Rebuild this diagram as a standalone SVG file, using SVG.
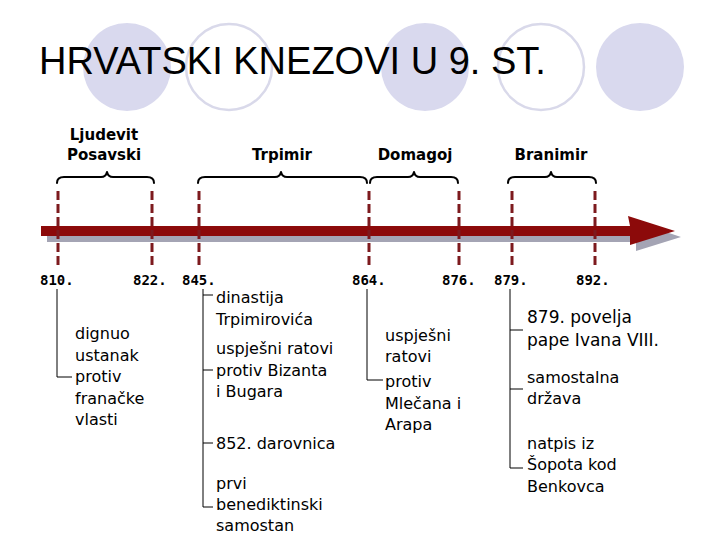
<svg xmlns="http://www.w3.org/2000/svg" width="720" height="540" viewBox="0 0 720 540">
<style>
.dot{fill:#D9D9EE}
.ring{fill:none;stroke:#D9D9EA;stroke-width:2.5}
.title{font-family:"Liberation Sans",Arial,sans-serif;font-size:38px;fill:#000}
.ruler{font-family:"DejaVu Sans",sans-serif;font-size:15px;font-weight:bold;fill:#000;text-anchor:middle}
.year{font-family:"DejaVu Sans Mono","Liberation Mono",monospace;font-size:14px;font-weight:bold;fill:#000}
.txt{font-family:"DejaVu Sans",sans-serif;font-size:16px;fill:#000}
.big{font-size:17px}
.brace{fill:none;stroke:#000;stroke-width:2;stroke-linejoin:round;stroke-linecap:round}
.dash{stroke:#7D1A1E;stroke-width:3;stroke-dasharray:9 4}
.conn{fill:none;stroke:#000;stroke-width:1}
</style>
<rect width="720" height="540" fill="#fff"/>
<g id="decor">
<circle class="dot" cx="127" cy="67" r="44"/>
<circle class="ring" cx="229" cy="67" r="43"/>
<circle class="dot" cx="425" cy="67" r="44"/>
<circle class="ring" cx="541" cy="67" r="43"/>
<circle class="dot" cx="640" cy="67" r="44"/>
</g>
<g id="title"><text class="title" x="39" y="74">HRVATSKI KNEZOVI U 9. ST.</text></g>
<g id="timeline">
<path d="M47,232 H637 L636,222 L681,237 L636,251 L636,242 H47 Z" fill="#A4A4B4"/>
<path d="M41,226 H630 L628,216 L675,231 L630,245 L630,236 H41 Z" fill="#8C0A0A"/>
<line class="dash" x1="58" y1="191" x2="58" y2="268"/>
<line class="dash" x1="152" y1="191" x2="152" y2="268"/>
<line class="dash" x1="199" y1="191" x2="199" y2="268"/>
<line class="dash" x1="369" y1="191" x2="369" y2="268"/>
<line class="dash" x1="459" y1="191" x2="459" y2="268"/>
<line class="dash" x1="512" y1="191" x2="512" y2="268"/>
<line class="dash" x1="595" y1="191" x2="595" y2="268"/>
<text class="year" x="40" y="285">810.</text>
<text class="year" x="133" y="285">822.</text>
<text class="year" x="182" y="285">845.</text>
<text class="year" x="352" y="285">864.</text>
<text class="year" x="442" y="285">876.</text>
<text class="year" x="494" y="285">879.</text>
<text class="year" x="576" y="285">892.</text>
</g>
<g id="ljudevit">
<path class="brace" d="M57,183 Q57,177 64,177 L101,177 Q106,177 107,172 Q108,177 113,177 L147,177 Q154,177 154,183"/>
<text class="ruler" x="104" y="140">Ljudevit</text>
<text class="ruler" x="104" y="160">Posavski</text>
<text class="txt" x="75" y="339">dignuo</text>
<text class="txt" x="75" y="361">ustanak</text>
<text class="txt" x="75" y="382">protiv</text>
<text class="txt" x="75" y="404">franačke</text>
<text class="txt" x="75" y="425">vlasti</text>
</g>
<g id="trpimir">
<path class="brace" d="M198,183 Q198,177 205,177 L275,177 Q280,177 281,172 Q282,177 287,177 L360,177 Q367,177 367,183"/>
<text class="ruler" x="282" y="160">Trpimir</text>
<text class="txt" x="216" y="303">dinastija</text>
<text class="txt" x="216" y="325">Trpimirovića</text>
<text class="txt" x="216" y="354">uspješni ratovi</text>
<text class="txt" x="216" y="376">protiv Bizanta</text>
<text class="txt" x="216" y="397">i Bugara</text>
<text class="txt" x="216" y="449">852. darovnica</text>
<text class="txt" x="216" y="489">prvi</text>
<text class="txt" x="216" y="510">benediktinski</text>
<text class="txt" x="216" y="531">samostan</text>
</g>
<g id="domagoj">
<path class="brace" d="M370,183 Q370,177 377,177 L408,177 Q413,177 414,172 Q415,177 420,177 L451,177 Q458,177 458,183"/>
<text class="ruler" x="415" y="160">Domagoj</text>
<text class="txt" x="385" y="341">uspješni</text>
<text class="txt" x="385" y="362">ratovi</text>
<text class="txt" x="385" y="387">protiv</text>
<text class="txt" x="385" y="409">Mlečana i</text>
<text class="txt" x="385" y="430">Arapa</text>
</g>
<g id="branimir">
<path class="brace" d="M508,183 Q508,177 515,177 L545,177 Q550,177 551,172 Q552,177 557,177 L589,177 Q596,177 596,183"/>
<text class="ruler" x="551" y="160">Branimir</text>
<text class="txt big" x="527" y="323">879. povelja</text>
<text class="txt big" x="527" y="346">pape Ivana VIII.</text>
<text class="txt" x="527" y="383">samostalna</text>
<text class="txt" x="527" y="404">država</text>
<text class="txt" x="527" y="449">natpis iz</text>
<text class="txt" x="527" y="470">Šopota kod</text>
<text class="txt" x="527" y="492">Benkovca</text>
</g>
<g id="connectors">
<path class="conn" d="M57,289 V377 H72"/>
<path class="conn" d="M203,289 V507 H213 M203,295 H213 M203,370 H213 M203,443 H213"/>
<path class="conn" d="M367,289 V380 H383"/>
<path class="conn" d="M510,289 V468 H523 M510,330 H523 M510,389 H523"/>
</g>
</svg>
